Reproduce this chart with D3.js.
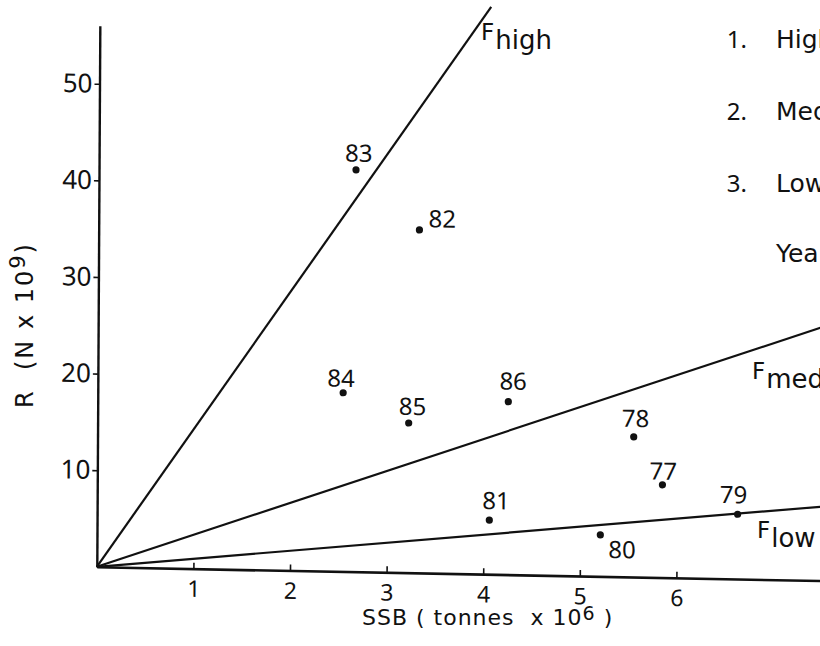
<!DOCTYPE html>
<html>
<head>
<meta charset="utf-8">
<script src="https://cdn.jsdelivr.net/npm/d3@7"></script>
<style>
  html, body { margin: 0; padding: 0; background: #fff; }
  svg { display: block; }
  text { font-family: "Noto Sans", "DejaVu Sans", sans-serif; fill: #111; }
  text.word { font-family: "DejaVu Sans", "Noto Sans", sans-serif; }
</style>
</head>
<body>
<svg id="chart" width="820" height="646"></svg>
<script>
// ---- data ----
const years = ["77", "78", "79", "80", "81", "82", "83", "84", "85", "86"];
const ssb   = [5.85, 5.55, 6.63, 5.21, 4.06, 3.32, 2.66, 2.54, 3.22, 4.25];   // tonnes x 10^6
const recr  = [9.6, 14.5, 6.7, 4.3, 5.6, 35.5, 41.6, 18.5, 15.5, 17.9];     // N x 10^9
const fNames  = ["high", "med", "low"];
const fSlopes = [14.5, 3.5, 1.02];       // R / SSB along each F line
const fEnds   = [4.05, 8, 8];            // SSB where each line stops
const xTicks = [1, 2, 3, 4, 5, 6];
const yTicks = [10, 20, 30, 40, 50];
const legendNums  = ["1.", "2.", "3.", ""];
const legendTexts = ["High F", "Medium F", "Low F", "Years"];

// ---- drawing ----
const svg = d3.select("#chart");
svg.append("rect").attr("width", 820).attr("height", 646).attr("fill", "#fff");

const ox = 96.8, oy = 566.8;
const x = d3.scaleLinear().domain([0, 7.6]).range([ox, ox + 96.6 * 7.6]);
const y = d3.scaleLinear().domain([0, 56]).range([oy, oy - 9.66 * 56]);

// slight scan tilt of the original page
const g = svg.append("g")
  .attr("transform", `translate(${ox},${oy}) matrix(1,0.019,-0.0056,1,0,0) translate(${-ox},${-oy})`);

// x axis
const xAxis = g.append("g")
  .attr("transform", `translate(0,${oy})`)
  .call(d3.axisBottom(x).tickValues(xTicks).tickFormat(d3.format("d"))
        .tickSizeInner(-6).tickSizeOuter(0).tickPadding(12));
xAxis.select(".domain").attr("stroke", "#111").attr("stroke-width", 2.6);
xAxis.selectAll(".tick line").attr("stroke", "#111").attr("stroke-width", 1.6);
xAxis.selectAll(".tick text").style("font-size", "23px").attr("fill", "#111");

// y axis
const yAxis = g.append("g")
  .attr("transform", `translate(${ox},0)`)
  .call(d3.axisLeft(y).tickValues(yTicks).tickFormat(d3.format("d"))
        .tickSizeInner(5).tickSizeOuter(0).tickPadding(2));
yAxis.select(".domain").attr("stroke", "#111").attr("stroke-width", 2.4);
yAxis.selectAll(".tick line").attr("stroke", "#111").attr("stroke-width", 1.6);
yAxis.selectAll(".tick text").style("font-size", "26px").attr("fill", "#111");

// F lines
const fData = fNames.map((n, i) => ({ name: n, slope: fSlopes[i], end: fEnds[i] }));
g.selectAll("line.f").data(fData).enter().append("line")
  .attr("class", "f")
  .attr("x1", x(0)).attr("y1", y(0))
  .attr("x2", d => x(d.end)).attr("y2", d => y(d.slope * d.end))
  .attr("stroke", "#111").attr("stroke-width", 2.2);

// points
const pts = years.map((yr, i) => ({ yr, s: ssb[i], r: recr[i] }));
g.selectAll("circle.pt").data(pts).enter().append("circle")
  .attr("class", "pt")
  .attr("cx", d => x(d.s)).attr("cy", d => y(d.r))
  .attr("r", 3.6).attr("fill", "#111");

// year label placement relative to each dot
const labelOff = {
  "77": [-13, -5], "78": [-12, -10], "79": [-18, -11], "80": [8, 23], "81": [-7, -11],
  "82": [9, -3], "83": [-11, -8], "84": [-16, -6], "85": [-10, -8], "86": [-9, -12]
};
g.selectAll("text.yr").data(pts).enter().append("text")
  .attr("class", "yr")
  .attr("x", d => x(d.s) + labelOff[d.yr][0])
  .attr("y", d => y(d.r) + labelOff[d.yr][1])
  .style("font-size", "24px")
  .text(d => d.yr);

// axis titles
const xt = svg.append("text").attr("class", "word")
  .attr("x", 362).attr("y", 625)
  .style("font-size", "22px").style("letter-spacing", "1px").attr("xml:space", "preserve");
xt.append("tspan").text("SSB ( tonnes  x 10");
xt.append("tspan").attr("dy", -5).style("font-size", "19px").text("6");
xt.append("tspan").attr("dy", 5).text(" )");

const yt = svg.append("text").attr("class", "word")
  .attr("transform", "translate(33,408) rotate(-90)")
  .style("font-size", "24px").style("letter-spacing", "2px").attr("xml:space", "preserve");
yt.append("tspan").text("R  (N x 10");
yt.append("tspan").attr("dy", -8).style("font-size", "21px").text("9");
yt.append("tspan").attr("dy", 8).text(")");

// F line labels
const fLabelPos = { high: [481, 40], med: [752, 379], low: [757, 538] };
fNames.forEach(n => {
  const t = svg.append("text").attr("class", "word")
    .attr("x", fLabelPos[n][0]).attr("y", fLabelPos[n][1])
    .style("font-size", "23px");
  t.append("tspan").text("F");
  t.append("tspan").attr("dy", 9).attr("dx", 1).style("font-size", "26px").text(n);
});

// legend (runs off the right edge as in the original)
const legY = [48, 120, 192, 262];
legendTexts.forEach((txt, i) => {
  if (legendNums[i]) {
    svg.append("text").attr("x", 747).attr("y", legY[i])
      .attr("text-anchor", "end").style("font-size", "24px").text(legendNums[i]);
  }
  svg.append("text").attr("class", "word").attr("x", 776).attr("y", legY[i])
    .style("font-size", "25px").text(txt);
});
</script>
</body>
</html>
